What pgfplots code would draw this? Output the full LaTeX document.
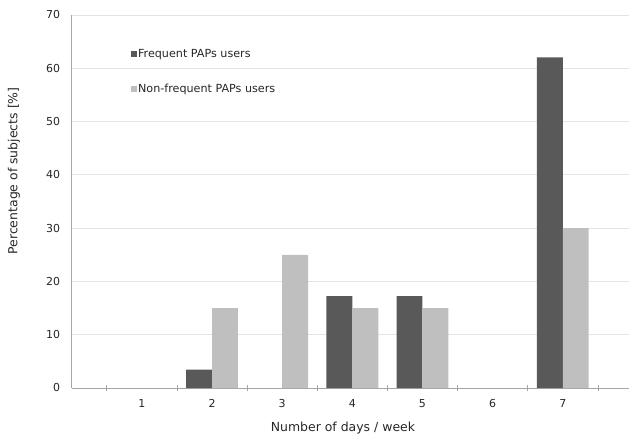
\documentclass[border=0pt]{standalone}
\usepackage{fontspec}
\setmainfont{DejaVu Sans}
\usepackage{pgfplots}
\pgfplotsset{compat=1.18}
\definecolor{darkbar}{HTML}{595959}
\definecolor{lightbar}{HTML}{BFBFBF}
\definecolor{gridc}{HTML}{E3E3E3}
\definecolor{axisc}{HTML}{A6A6A6}
\begin{document}
\begin{tikzpicture}
\path[use as bounding box] (-71.7bp,-48bp) rectangle (557.3bp,388bp);
\begin{axis}[
  at={(0,0)}, anchor=south west,
  scale only axis, width=557bp, height=373bp,
  xmin=0, xmax=7.94, ymin=0, ymax=70,
  axis x line=bottom, axis y line=left,
  axis line style={draw=axisc, line width=0.8pt, -},
  ytick={0,10,...,70},
  xtick={1,...,7},
  minor xtick={0.5,1.5,...,7.5},
  major tick length=0pt,
  minor tick length=6bp,
  xtick align=center,
  minor tick style={draw=axisc, line width=0.6pt},
  ymajorgrids, grid style={draw=gridc, line width=0.8pt},
  ticklabel style={font=\fontsize{11}{13}\selectfont, text=black!85},
  /pgf/number format/assume math mode=true,
  yticklabel style={xshift=-8bp},
  xticklabel style={yshift=-8bp},
  xlabel={Number of days / week},
  ylabel={Percentage of subjects [\%]},
  label style={font=\fontsize{12.5}{14}\selectfont, text=black!85},
  xlabel style={at={(axis description cs:0.487,-0.107)}, anchor=center},
  ylabel style={at={(axis description cs:-0.1036,0.582)}, anchor=center},
  legend style={at={(axis description cs:0.1,0.917)}, anchor=north west,
    draw=none, fill=none, row sep=21.5bp,
    font=\fontsize{11.2}{13}\selectfont, text=black!85,
    nodes={inner sep=1.5bp}},
  legend cell align=left,
  legend image code/.code={\fill[#1] (0bp,-3bp) rectangle (6bp,3bp);},
  bar width=0.37,
]
\addplot[ybar, bar shift=-0.185, fill=darkbar, draw=none] coordinates {
  (2,3.45) (4,17.24) (5,17.24) (7,62.07)
};
\addlegendentry{Frequent PAPs users}
\addplot[ybar, bar shift=0.185, fill=lightbar, draw=none] coordinates {
  (2,15) (3,25) (4,15) (5,15) (7,30)
};
\addlegendentry{Non-frequent PAPs users}
\end{axis}
\end{tikzpicture}
\end{document}
